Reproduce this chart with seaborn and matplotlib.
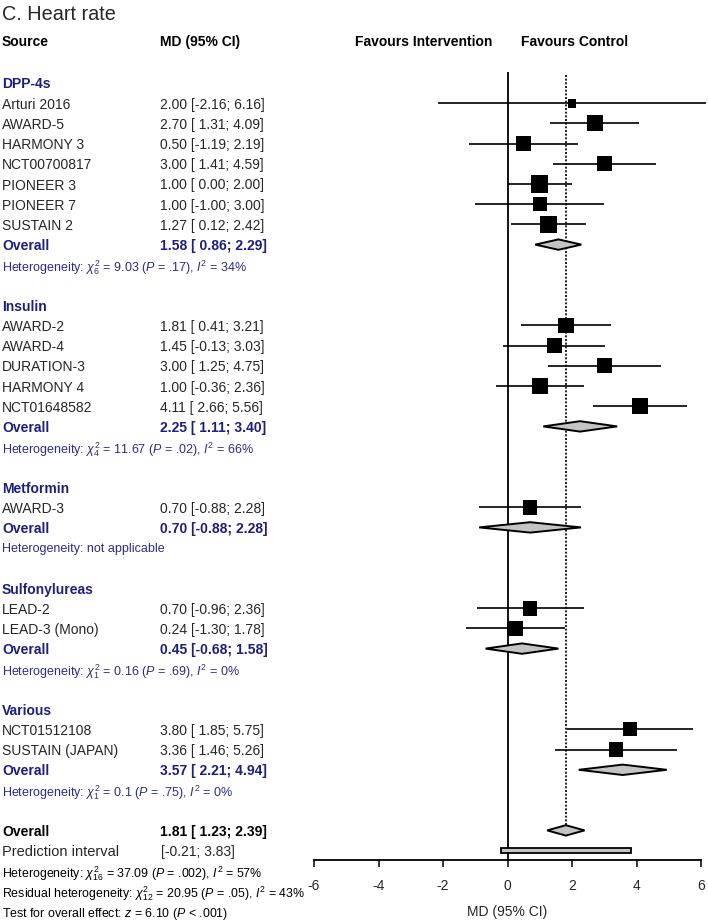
import numpy as np
import pandas as pd
import matplotlib
matplotlib.use("Agg")
import matplotlib.pyplot as plt
import seaborn as sns

# study level data
studies = ["Arturi 2016", "AWARD-5", "HARMONY 3", "NCT00700817", "PIONEER 3", "PIONEER 7", "SUSTAIN 2",
           "AWARD-2", "AWARD-4", "DURATION-3", "HARMONY 4", "NCT01648582",
           "AWARD-3",
           "LEAD-2", "LEAD-3 (Mono)",
           "NCT01512108", "SUSTAIN (JAPAN)"]
study_group = ["DPP-4s"] * 7 + ["Insulin"] * 5 + ["Metformin"] + ["Sulfonylureas"] * 2 + ["Various"] * 2
md = [2.00, 2.70, 0.50, 3.00, 1.00, 1.00, 1.27,
      1.81, 1.45, 3.00, 1.00, 4.11,
      0.70,
      0.70, 0.24,
      3.80, 3.36]
lo = [-2.16, 1.31, -1.19, 1.41, 0.00, -1.00, 0.12,
      0.41, -0.13, 1.25, -0.36, 2.66,
      -0.88,
      -0.96, -1.30,
      1.85, 1.46]
hi = [6.16, 4.09, 2.19, 4.59, 2.00, 3.00, 2.42,
      3.21, 3.03, 4.75, 2.36, 5.56,
      2.28,
      2.36, 1.78,
      5.75, 5.26]
# approximate weights (%), estimated from square sizes
weight = [1.9, 6.4, 5.4, 5.9, 7.5, 4.9, 7.5,
          6.2, 5.6, 5.6, 6.4, 6.2,
          5.4,
          5.4, 6.2,
          4.9, 5.1]

groups = ["DPP-4s", "Insulin", "Metformin", "Sulfonylureas", "Various"]
grp_md = [1.58, 2.25, 0.70, 0.45, 3.57]
grp_lo = [0.86, 1.11, -0.88, -0.68, 2.21]
grp_hi = [2.29, 3.40, 2.28, 1.58, 4.94]
grp_het = [r"Heterogeneity: $\chi^2_{6}$ = 9.03 ($P$ = .17), $I^2$ = 34%",
           r"Heterogeneity: $\chi^2_{4}$ = 11.67 ($P$ = .02), $I^2$ = 66%",
           "Heterogeneity: not applicable",
           r"Heterogeneity: $\chi^2_{1}$ = 0.16 ($P$ = .69), $I^2$ = 0%",
           r"Heterogeneity: $\chi^2_{1}$ = 0.1 ($P$ = .75), $I^2$ = 0%"]

overall = [1.81, 1.23, 2.39]
pred_int = [-0.21, 3.83]
bottom_notes = [r"Heterogeneity: $\chi^2_{16}$ = 37.09 ($P$ = .002), $I^2$ = 57%",
                r"Residual heterogeneity: $\chi^2_{12}$ = 20.95 ($P$ = .05), $I^2$ = 43%",
                r"Test for overall effect: $z$ = 6.10 ($P$ < .001)"]
xticks = [-6, -4, -2, 0, 2, 4, 6]

sns.set_style("white")
plt.rcParams["font.family"] = ["Liberation Sans", "DejaVu Sans"]
plt.rcParams["mathtext.fontset"] = "custom"
plt.rcParams["mathtext.rm"] = "Liberation Sans"
plt.rcParams["mathtext.it"] = "Liberation Sans:italic"
plt.rcParams["mathtext.bf"] = "Liberation Sans:bold"

NAVY = "#1c1f7e"
HETC = "#2a2d8c"
TXT = "#262626"
W, H = 708, 922
row0, step = 83, 20.2

fig = plt.figure(figsize=(W / 100, H / 100), dpi=100)
tax = fig.add_axes([0, 0, 1, 1])
tax.set_xlim(0, W)
tax.set_ylim(H, 0)
tax.axis("off")

# forest panel; y in pixel rows
ax = fig.add_axes([314 / W, (H - 860) / H, (701 - 314) / W, (860 - 62) / H])
ax.set_xlim(-6, 6)
ax.set_ylim(860, 62)
ax.patch.set_alpha(0)

def ry(i):
    return row0 + step * i

def ci_text(m, l, h):
    return "{:.2f} [{:5.2f}; {:.2f}]".format(m, l, h)

def diamond(m, l, h, y, hh=5.2):
    ax.fill([l, m, h, m], [y, y - hh, y, y + hh], facecolor="#c4c4c4",
            edgecolor="black", lw=1.4, zorder=4, clip_on=False)

# headers
tax.text(2, 14, "C. Heart rate", fontsize=14.3, color=TXT, va="center")
tax.text(2, 42, "Source", fontsize=10, fontweight="bold", color="black", va="center")
tax.text(160, 42, "MD (95% CI)", fontsize=10, fontweight="bold", color="black", va="center")
tax.text(355, 42, "Favours Intervention", fontsize=10, fontweight="bold", color="black", va="center")
tax.text(521, 42, "Favours Control", fontsize=10, fontweight="bold", color="black", va="center")

df = pd.DataFrame({"study": studies, "group": study_group, "md": md, "lo": lo, "hi": hi, "w": weight})
df["y"] = 0.0

i = 0
for g, gm, gl, gh, het in zip(groups, grp_md, grp_lo, grp_hi, grp_het):
    tax.text(2, ry(i), g, fontsize=10, fontweight="bold", color=NAVY, va="center_baseline")
    i += 1
    for idx in df.index[df.group == g]:
        r = df.loc[idx]
        y = ry(i)
        df.loc[idx, "y"] = y
        tax.text(2, y, r.study, fontsize=10, color=TXT, va="center_baseline")
        tax.text(160, y, ci_text(r.md, r.lo, r.hi), fontsize=10, color=TXT, va="center_baseline")
        i += 1
    y = ry(i)
    tax.text(2, y, "Overall", fontsize=10, fontweight="bold", color=NAVY, va="center_baseline")
    tax.text(160, y, ci_text(gm, gl, gh), fontsize=10, fontweight="bold", color=NAVY, va="center_baseline")
    diamond(gm, gl, gh, y)
    i += 1
    tax.text(2, ry(i), het, fontsize=9.0, color=HETC, va="center_baseline")
    i += 2

# overall summary
y = ry(i)
tax.text(2, y, "Overall", fontsize=10, fontweight="bold", color="black", va="center_baseline")
tax.text(160, y, ci_text(*overall), fontsize=10, fontweight="bold", color="black", va="center_baseline")
diamond(overall[0], overall[1], overall[2], y)
y_overall = y
i += 1
y = ry(i)
tax.text(2, y, "Prediction interval", fontsize=10.5, color=TXT, va="center_baseline")
tax.text(161, y, "[{:5.2f}; {:.2f}]".format(*pred_int), fontsize=10, color=TXT, va="center_baseline")
ax.barh(y, pred_int[1] - pred_int[0], left=pred_int[0], height=5, color="#c4c4c4",
        edgecolor="black", lw=1.3, zorder=4)
i += 1
for note in bottom_notes:
    tax.text(2, ry(i), note, fontsize=8.9, color="black", va="center_baseline")
    i += 1

# reference lines
ax.vlines(0, 72, 860, color="black", lw=1.3, zorder=1)
ax.vlines(overall[0], 75, y_overall - 5.2, color="black", lw=1.2, linestyles=(0, (1.2, 1.0)), zorder=1)

# confidence intervals and squares
ax.hlines(df.y, df.lo, df.hi, color="black", lw=1.2, zorder=2, clip_on=False)
sns.scatterplot(data=df, x="md", y="y", size="w", size_norm=(0, 7.5), sizes=(0, 155),
                marker="s", color="black", edgecolor="black", linewidth=0, legend=False,
                ax=ax, zorder=3, clip_on=False)

# axis styling
for s in ["left", "top", "right"]:
    ax.spines[s].set_visible(False)
ax.spines["bottom"].set_linewidth(1.3)
ax.spines["bottom"].set_color("black")
ax.set_yticks([])
ax.set_xticks(xticks)
ax.set_xticklabels([str(t) for t in xticks])
ax.tick_params(axis="x", direction="out", length=5, width=1.3, pad=9, labelsize=10, labelcolor=TXT, bottom=True)
ax.set_xlabel("MD (95% CI)", fontsize=10, color=TXT, labelpad=8)
ax.set_ylabel("")

fig.savefig("out.png", dpi=100)
